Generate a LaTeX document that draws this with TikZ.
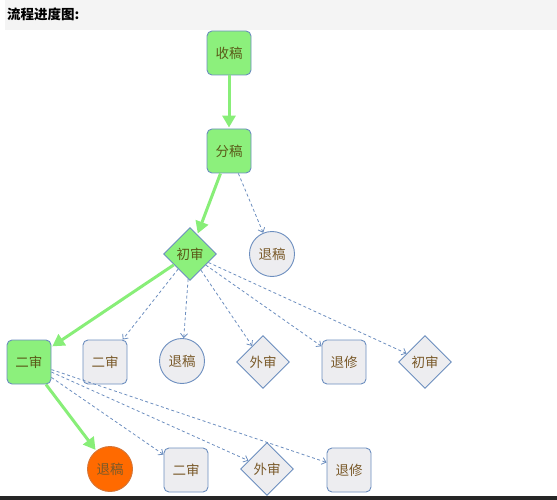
\documentclass[tikz,border=0pt]{standalone}
\usepackage{fontspec}
\setmainfont{Noto Sans CJK SC}
\usetikzlibrary{shapes.geometric,arrows.meta}
\definecolor{bordc}{HTML}{6C8EBF}
\definecolor{greyf}{HTML}{EDEDF0}
\definecolor{greenf}{HTML}{8CF07C}
\definecolor{greenl}{HTML}{88EE78}
\definecolor{orangef}{HTML}{FF6A00}
\definecolor{txtc}{HTML}{7A5A2A}
\definecolor{txtg}{HTML}{5A5A18}
\definecolor{headf}{HTML}{F4F4F4}
\definecolor{edgec}{HTML}{6C8EBF}
\tikzset{
  base/.style={draw=bordc, line width=0.9pt, inner sep=0pt, text=txtc, font=\fontsize{13.5}{15}\selectfont},
  boxn/.style={base, rectangle, rounded corners=5pt, minimum width=44pt, minimum height=44pt, fill=greyf},
  circn/.style={base, circle, minimum size=45pt, fill=greyf},
  diamn/.style={base, diamond, aspect=1, minimum width=53pt, minimum height=53pt, fill=greyf},
  greenn/.style={fill=greenf, text=txtg},
  main/.style={draw=greenl, line width=3pt, -{Triangle[length=12pt, width=13pt]}, shorten >=1pt},
  side/.style={draw=edgec, line width=0.8pt, dash pattern=on 3pt off 2.5pt, -{Straight Barb[length=4pt, width=7pt]}}
}
\begin{document}
\begin{tikzpicture}[x=1pt, y=-1pt]
\useasboundingbox (0,0) rectangle (557,500);
\fill[headf] (5,0) rectangle (557,30);
\fill[black!85] (0,496) rectangle (557,500);
\node[anchor=west, font=\bfseries\fontsize{13.5}{15}\selectfont, inner sep=0pt] (title) at (7,14) {流程进度图:};

\node[boxn, greenn] (shou) at (229,53) {收稿};
\node[boxn, greenn] (fen) at (229,151) {分稿};
\node[diamn, greenn] (chu) at (190,254) {初审};
\node[circn] (tui1) at (272,254) {退稿};

\node[boxn, greenn] (er) at (29,362) {二审};
\node[boxn] (er2) at (105,362) {二审};
\node[circn] (tui2) at (182,361) {退稿};
\node[diamn] (wai1) at (263,362) {外审};
\node[boxn] (xiu1) at (344,362) {退修};
\node[diamn] (chu2) at (425,362) {初审};

\node[circn, fill=orangef, draw=orangef!70!bordc] (tui3) at (110,469) {退稿};
\node[boxn] (er3) at (186,470) {二审};
\node[diamn] (wai2) at (267,469) {外审};
\node[boxn] (xiu2) at (349,470) {退修};

\draw[main] (shou) -- (fen);
\draw[main] (fen) -- (chu);
\draw[side] (fen) -- (tui1);
\draw[main] (chu) -- (er);
\draw[side] (chu) -- (er2);
\draw[side] (chu) -- (tui2);
\draw[side] (chu) -- (wai1);
\draw[side] (chu) -- (xiu1);
\draw[side] (chu) -- (chu2);
\draw[main] (er) -- (tui3);
\draw[side] (er) -- (er3);
\draw[side] (er) -- (wai2);
\draw[side] (er) -- (xiu2);
\end{tikzpicture}
\end{document}
